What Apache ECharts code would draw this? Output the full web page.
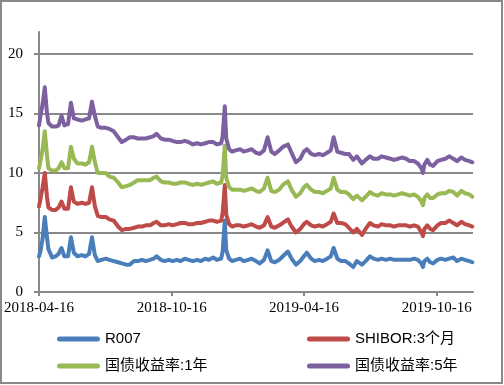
<!DOCTYPE html>
<html><head><meta charset="utf-8">
<script src="https://cdn.jsdelivr.net/npm/echarts@6/dist/echarts.min.js"></script>
<style>html,body{margin:0;padding:0;background:#fff}#c{width:504px;height:385px}</style>
</head><body><div id="c"></div>
<script>
const dates = [
'2018-04-16','2018-04-18','2018-04-21','2018-04-24','2018-04-27','2018-04-29','2018-05-04','2018-05-09','2018-05-13','2018-05-17',
'2018-05-21','2018-05-26','2018-05-30','2018-06-03','2018-06-08','2018-06-14','2018-06-19','2018-06-24','2018-06-28','2018-07-02',
'2018-07-06','2018-07-11','2018-07-17','2018-07-22','2018-07-28','2018-08-03','2018-08-08','2018-08-14','2018-08-19','2018-08-25',
'2018-08-30','2018-09-05','2018-09-10','2018-09-16','2018-09-21','2018-09-25','2018-10-01','2018-10-06','2018-10-12','2018-10-17',
'2018-10-23','2018-10-28','2018-11-03','2018-11-08','2018-11-14','2018-11-20','2018-11-25','2018-12-01','2018-12-06','2018-12-12',
'2018-12-17','2018-12-23','2018-12-25','2018-12-28','2018-12-30','2019-01-03','2019-01-07','2019-01-12','2019-01-18','2019-01-23',
'2019-01-29','2019-02-03','2019-02-09','2019-02-14','2019-02-20','2019-02-25','2019-03-02','2019-03-07','2019-03-13','2019-03-18',
'2019-03-25','2019-03-30','2019-04-05','2019-04-11','2019-04-16','2019-04-20','2019-04-26','2019-05-01','2019-05-07','2019-05-12',
'2019-05-18','2019-05-23','2019-05-27','2019-06-01','2019-06-06','2019-06-12','2019-06-17','2019-06-23','2019-06-28','2019-07-05',
'2019-07-10','2019-07-16','2019-07-21','2019-07-27','2019-08-01','2019-08-07','2019-08-13','2019-08-18','2019-08-24','2019-08-29',
'2019-09-04','2019-09-09','2019-09-15','2019-09-20','2019-09-25','2019-09-27','2019-09-29','2019-10-03','2019-10-07','2019-10-11',
'2019-10-17','2019-10-22','2019-10-28','2019-11-02','2019-11-08','2019-11-13','2019-11-19','2019-11-24','2019-11-30','2019-12-04'
];
const r007 = [
3.0,3.4,4.5,6.3,4.6,3.6,2.9,3.0,3.2,3.7,
3.0,3.0,4.6,3.3,3.0,3.1,3.0,3.2,4.6,3.1,
2.6,2.7,2.8,2.7,2.6,2.5,2.4,2.3,2.3,2.6,
2.6,2.7,2.6,2.7,2.8,3.0,2.7,2.6,2.7,2.6,
2.7,2.6,2.8,2.7,2.6,2.7,2.6,2.8,2.7,2.9,
2.7,2.8,3.4,6.0,3.5,2.8,2.6,2.7,2.8,2.6,
2.7,2.8,2.6,2.4,2.7,3.5,2.6,2.5,2.7,3.0,
3.4,2.8,2.3,2.6,3.0,3.3,2.8,2.6,2.7,2.6,
2.8,3.0,3.7,2.8,2.6,2.6,2.4,2.1,2.6,2.3,
2.6,3.0,2.8,2.7,2.8,2.7,2.8,2.7,2.7,2.7,
2.7,2.7,2.8,2.7,2.4,2.1,2.6,2.8,2.5,2.4,
2.7,2.8,2.7,2.8,2.9,2.6,2.8,2.7,2.6,2.5
];
const shibor3m = [
4.2,4.4,4.3,3.7,3.4,3.5,4.0,3.9,3.9,3.9,
4.0,4.0,4.2,4.3,4.4,4.4,4.4,4.3,4.2,4.1,
3.8,3.6,3.5,3.4,3.4,3.0,2.8,3.0,3.0,2.8,
2.9,2.8,3.0,2.9,3.0,2.9,2.9,3.0,3.0,3.0,
3.0,3.2,3.0,3.0,3.1,3.1,3.2,3.1,3.3,3.1,
3.2,3.2,3.2,3.0,3.0,2.9,2.9,2.9,2.8,2.9,
2.9,2.9,2.9,3.0,2.9,2.8,2.9,2.9,2.9,2.8,
2.7,2.7,2.7,2.7,2.7,2.6,2.8,2.9,2.9,2.9,
2.9,2.9,2.9,3.0,3.2,3.1,3.0,2.9,2.7,2.5,
2.7,2.8,2.8,2.8,2.9,2.9,2.8,2.8,2.9,2.9,
2.9,2.8,2.8,2.8,2.6,2.6,2.7,2.8,2.8,2.8,
2.9,3.0,3.1,3.2,2.9,3.0,3.1,3.0,3.0,3.0
];
const cgb1y = [
3.2,3.2,3.2,3.5,3.5,3.3,3.3,3.3,3.3,3.3,
3.4,3.4,3.4,3.6,3.4,3.3,3.3,3.4,3.4,3.7,
3.6,3.7,3.7,3.6,3.6,3.7,3.6,3.6,3.7,3.8,
3.9,3.9,3.8,3.8,3.8,3.8,3.7,3.6,3.5,3.5,
3.4,3.4,3.4,3.4,3.3,3.3,3.2,3.2,3.2,3.3,
3.2,3.2,3.2,3.3,3.1,3.1,3.1,3.0,3.0,3.0,
3.0,3.0,3.0,3.0,3.1,3.3,3.0,3.0,3.0,3.2,
3.2,3.1,3.0,3.0,3.1,3.1,3.0,2.9,2.8,2.8,
2.8,2.8,3.0,2.8,2.6,2.7,2.8,2.8,2.8,2.9,
2.7,2.6,2.6,2.6,2.6,2.6,2.6,2.6,2.6,2.7,
2.6,2.6,2.6,2.5,2.6,2.6,2.6,2.6,2.6,2.7,
2.6,2.5,2.5,2.5,2.6,2.5,2.6,2.6,2.6,2.5
];
const cgb5y = [
3.6,3.8,3.8,3.7,3.5,3.8,3.7,3.7,3.6,3.9,
3.6,3.7,3.7,3.4,3.7,3.6,3.8,3.7,3.8,3.9,
3.9,3.8,3.8,4.0,3.9,3.8,3.8,3.9,4.0,3.8,
3.5,3.5,3.5,3.6,3.5,3.6,3.6,3.6,3.6,3.6,
3.5,3.4,3.5,3.5,3.4,3.4,3.4,3.4,3.4,3.3,
3.3,3.3,3.3,3.3,3.3,3.2,3.2,3.3,3.4,3.3,
3.3,3.3,3.2,3.2,3.2,3.4,3.3,3.2,3.3,3.2,
3.1,3.1,2.9,2.9,3.0,3.0,3.0,3.1,3.2,3.2,
3.2,3.2,3.4,3.2,3.3,3.2,3.4,3.3,3.3,3.1,
3.1,3.0,3.0,3.1,3.1,3.1,3.0,3.0,3.0,3.0,
3.0,2.9,2.8,2.8,2.8,2.7,2.8,2.9,2.8,2.7,
2.8,2.8,2.9,2.9,2.8,2.9,2.8,2.8,2.8,2.9
];
const seriesNames = ['R007','SHIBOR:3个月','国债收益率:1年','国债收益率:5年'];
const seriesValues = [r007, shibor3m, cgb1y, cgb5y];
const seriesColors = ['#4A7EBB','#BE4B48','#98B954','#7D60A0'];
const xTickLabels = ['2018-04-16','2018-10-16','2019-04-16','2019-10-16'];
const xStart = '2018-04-16', xEnd = '2019-12-05';
const yMin = 0, yMax = 20, yStep = 5;

function toTs(s){const p=s.split('-').map(Number);return Date.UTC(p[0],p[1]-1,p[2]);}
function fmt(v){const d=new Date(v);const z=n=>String(n).padStart(2,'0');return d.getUTCFullYear()+'-'+z(d.getUTCMonth()+1)+'-'+z(d.getUTCDate());}

const gray = '#898989';
const chart = echarts.init(document.getElementById('c'), null, {renderer:'canvas'});
const legendPos = [[57,329],[307,329],[57,356],[307,356]];
const tickTs = xTickLabels.map(toTs);
chart.setOption({
  animation:false,
  backgroundColor:'#fff',
  graphic:[{type:'rect',silent:true,shape:{x:1,y:1,width:501,height:382},style:{fill:null,stroke:gray,lineWidth:2}}],
  grid:[
    {left:39,right:31,top:54,bottom:93},
    {left:39,right:31,top:32,bottom:93}
  ],
  legend: seriesNames.map((n,i)=>({
    data:[n], left:legendPos[i][0], top:legendPos[i][1], padding:0,
    itemWidth:43, itemHeight:5, itemGap:0,
    icon:'path://M2.5,0 L40.5,0 A2.5,2.5 0 0 1 40.5,5 L2.5,5 A2.5,2.5 0 0 1 2.5,0 Z',
    textStyle:{fontFamily:'Liberation Sans, Noto Sans CJK SC, sans-serif',fontSize:15,color:'#000',lineHeight:20}
  })),
  xAxis:[
    {type:'time',gridIndex:0,min:toTs(xStart),max:toTs(xEnd),
     axisLine:{show:true,lineStyle:{color:gray,width:2}},
     axisTick:{show:false},axisLabel:{show:false},splitLine:{show:false}},
    {type:'value',gridIndex:1,show:false,min:0,max:1},
    {type:'value',gridIndex:0,position:'bottom',min:toTs(xStart),max:toTs(xEnd),
     axisLine:{show:false},
     axisTick:{show:true,length:4,customValues:tickTs,lineStyle:{color:gray,width:2}},
     axisLabel:{customValues:tickTs,formatter:v=>fmt(v),margin:9,
       fontFamily:'Liberation Serif, serif',fontSize:15,color:'#000',hideOverlap:false},
     splitLine:{show:false}}
  ],
  yAxis:[
    {type:'value',gridIndex:0,min:yMin,max:yMax,interval:yStep,
     axisLine:{show:false},
     axisTick:{show:true,length:5,lineStyle:{color:gray,width:2}},
     axisLabel:{margin:16,fontFamily:'Liberation Serif, serif',fontSize:15,color:'#000'},
     splitLine:{show:true,lineStyle:{color:gray,width:2}}},
    {type:'value',gridIndex:1,min:0,max:1,
     axisLine:{show:true,lineStyle:{color:gray,width:2}},
     axisTick:{show:false},axisLabel:{show:false},splitLine:{show:false}}
  ],
  series: seriesNames.map((n,i)=>({
    name:n,type:'line',stack:'total',xAxisIndex:0,yAxisIndex:0,
    showSymbol:false,symbol:'none',smooth:false,
    color:seriesColors[i],
    lineStyle:{width:4,color:seriesColors[i],cap:'round',join:'round'},
    data: dates.map((d,k)=>[toTs(d), seriesValues[i][k]])
  }))
});
</script></body></html>
